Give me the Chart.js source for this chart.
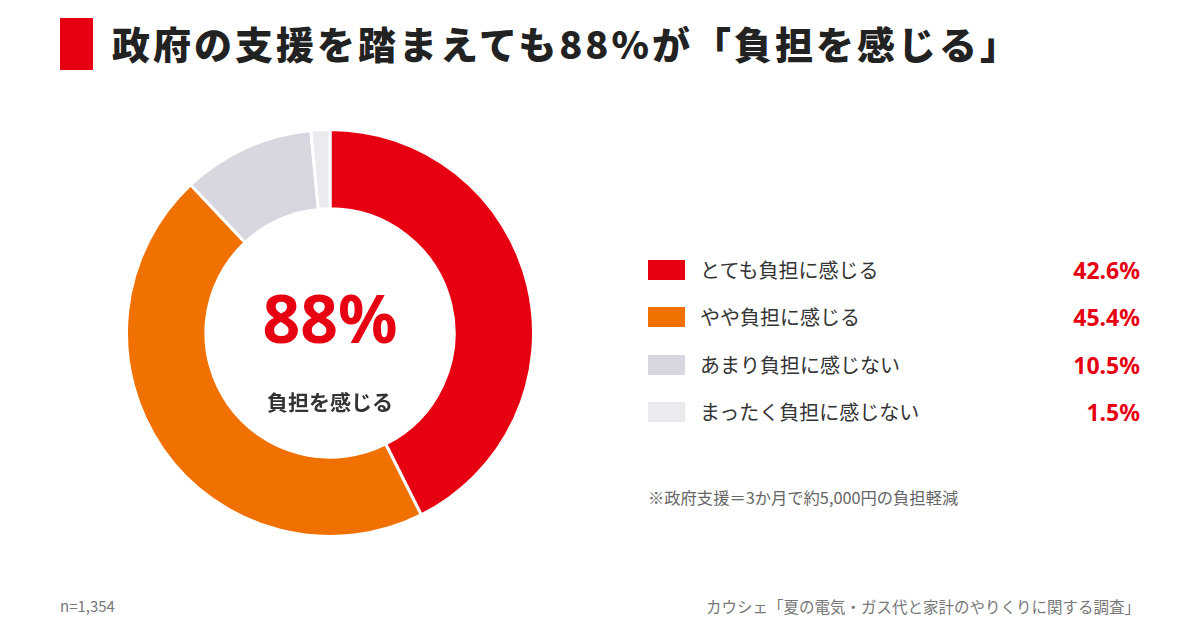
<!DOCTYPE html>
<html lang="ja">
<head>
<meta charset="utf-8">
<script src="https://cdn.jsdelivr.net/npm/chart.js@4"></script>
<style>
  html, body { margin:0; padding:0; background:#fff; }
  body { width:1200px; height:630px; position:relative; overflow:hidden; font-family:"Noto Sans CJK JP","Noto Sans",sans-serif; color:#333; }
  .bar { position:absolute; left:60px; top:18px; width:33px; height:52px; background:#E60012; }
  .title { position:absolute; left:112px; top:13px; font-size:38px; font-weight:900; color:#222; line-height:60px; white-space:nowrap; letter-spacing:3px; }
  #wrap { position:absolute; left:125px; top:128px; width:410px; height:410px; }
  .big { position:absolute; left:200px; width:260px; top:277px; text-align:center; font-size:66px; font-weight:700; color:#E60012; line-height:80px; font-family:"Noto Sans","Noto Sans CJK JP",sans-serif; }
  .sub { position:absolute; left:230px; width:200px; top:386px; text-align:center; font-size:21px; font-weight:700; color:#333; line-height:30px; }
  .legend { position:absolute; left:648px; top:0; width:492px; }
  .row { position:absolute; left:0; width:492px; height:30px; }
  .sw { position:absolute; left:0; top:5px; width:37px; height:20px; }
  .lab { position:absolute; left:52px; top:0; font-size:20px; line-height:30px; color:#333; white-space:nowrap; }
  .pct { position:absolute; right:0; top:0; font-size:23px; font-weight:700; line-height:30px; color:#E60012; font-family:"Noto Sans","Noto Sans CJK JP",sans-serif; }
  .note { position:absolute; left:648px; top:485px; font-size:16.3px; color:#666; white-space:nowrap; }
  .n { position:absolute; left:60px; top:595px; font-size:15px; color:#777; }
  .src { position:absolute; right:60px; top:595px; font-size:15.5px; color:#777; white-space:nowrap; }
</style>
</head>
<body>
<div class="bar"></div>
<div class="title">政府の支援を踏まえても88%が「負担を感じる」</div>
<div id="wrap"><canvas id="c" width="410" height="410"></canvas></div>
<div class="big">88%</div>
<div class="sub">負担を感じる</div>
<div class="legend" id="legend"></div>
<div class="note">※政府支援＝3か月で約5,000円の負担軽減</div>
<div class="n">n=1,354</div>
<div class="src">カウシェ「夏の電気・ガス代と家計のやりくりに関する調査」</div>
<script>
const categories = ["とても負担に感じる", "やや負担に感じる", "あまり負担に感じない", "まったく負担に感じない"];
const values = [42.6, 45.4, 10.5, 1.5];
const valueLabels = ["42.6%", "45.4%", "10.5%", "1.5%"];
const colors = ["#E60012", "#F07000", "#D8D6DE", "#EBEAEF"];

const legend = document.getElementById('legend');
const rowTops = [255, 302, 350, 397];
categories.forEach((cat, i) => {
  const r = document.createElement('div');
  r.className = 'row';
  r.style.top = rowTops[i] + 'px';
  r.innerHTML = '<div class="sw" style="background:' + colors[i] + '"></div><div class="lab">' + cat + '</div><div class="pct">' + valueLabels[i] + '</div>';
  legend.appendChild(r);
});

new Chart(document.getElementById('c'), {
  type: 'doughnut',
  data: {
    labels: categories,
    datasets: [{
      data: values,
      backgroundColor: colors,
      borderColor: '#ffffff',
      borderWidth: 3,
      hoverOffset: 0
    }]
  },
  options: {
    responsive: false,
    animation: false,
    cutout: '61%',
    rotation: 0,
    layout: { padding: 0 },
    plugins: { legend: { display: false }, tooltip: { enabled: false } }
  }
});
</script>
</body>
</html>
